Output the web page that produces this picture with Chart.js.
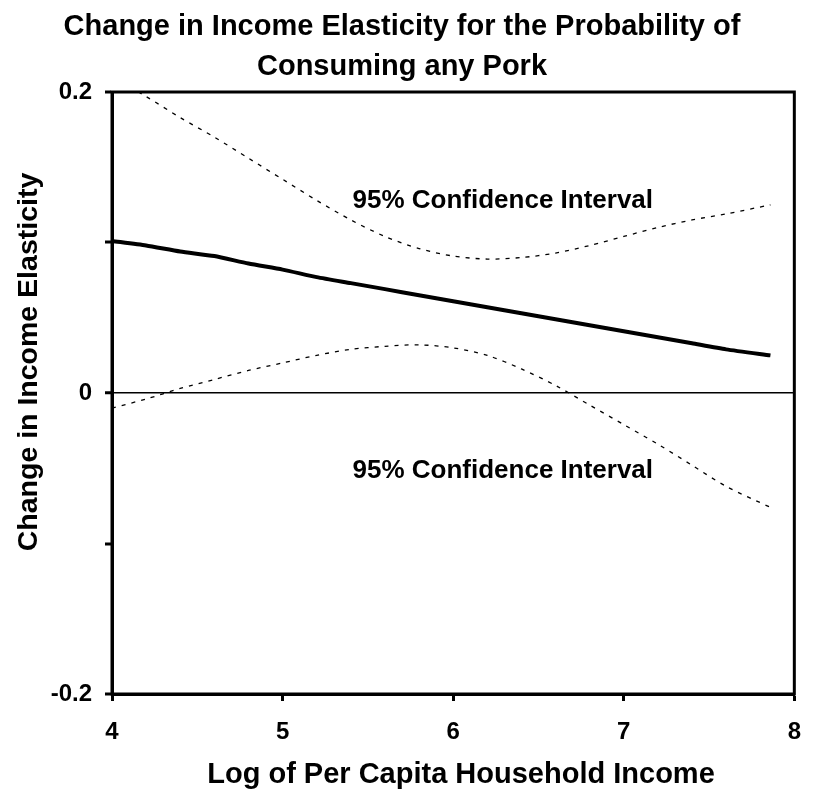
<!DOCTYPE html>
<html>
<head>
<meta charset="utf-8">
<script src="https://cdn.jsdelivr.net/npm/chart.js@4"></script>
<style>
html,body{margin:0;padding:0;background:#fff;}
#wrap{width:818px;height:800px;position:relative;}
</style>
</head>
<body>
<div id="wrap"><canvas id="c" width="818" height="800"></canvas></div>
<script>
// ---- data ----
const incomeLog = [4.0,4.2,4.4,4.6,4.8,5.0,5.2,5.4,5.6,5.8,6.0,6.2,6.4,6.6,6.8,7.0,7.2,7.4,7.6,7.86];
const elasticity = [0.101,0.098,0.094,0.091,0.086,0.082,0.077,0.073,0.069,0.065,0.061,0.057,0.053,0.049,0.045,0.041,0.037,0.033,0.029,0.025];
const upperCI = [0.210,0.197,0.183,0.170,0.156,0.142,0.128,0.115,0.104,0.096,0.091,0.089,0.090,0.093,0.098,0.104,0.110,0.115,0.119,0.125];
const lowerCI = [-0.010,-0.004,0.003,0.009,0.015,0.020,0.025,0.029,0.031,0.032,0.030,0.025,0.016,0.005,-0.008,-0.021,-0.034,-0.048,-0.062,-0.076];
const yTickLabels = {"-0.2":"-0.2","0":"0","0.2":"0.2"};
const xTickLabels = ["4","5","6","7","8"];
const titleLines = ["Change in Income Elasticity for the Probability of","Consuming any Pork"];
const xTitle = "Log of Per Capita Household Income";
const yTitle = "Change in Income Elasticity";
const ciLabel = "95% Confidence Interval";
const ciLabelPos = [[5.41,0.128],[5.41,-0.052]];

const FONT = "'Liberation Sans', Arial, sans-serif";
const pts = (ys) => incomeLog.map((x,i)=>({x:x,y:ys[i]}));

const textPlugin = {
  id:'texts',
  afterDraw(chart){
    const ctx = chart.ctx, a = chart.chartArea;
    ctx.save();
    // frame
    ctx.strokeStyle='#000'; ctx.lineWidth=3;
    ctx.strokeRect(a.left, a.top, a.right-a.left, a.bottom-a.top);
    ctx.fillStyle='#000';
    ctx.textAlign='center'; ctx.textBaseline='alphabetic';
    ctx.font = "bold 29px "+FONT;
    ctx.fillText(titleLines[0], 402, 35);
    ctx.fillText(titleLines[1], 402, 75);
    ctx.font = "bold 29px "+FONT;
    ctx.fillText(xTitle, 461, 783);
    ctx.save();
    ctx.translate(37, 362);
    ctx.rotate(-Math.PI/2);
    ctx.font = "bold 28.5px "+FONT;
    ctx.fillText(yTitle, 0, 0);
    ctx.restore();
    ctx.font = "bold 26px "+FONT;
    ctx.textAlign='left'; ctx.textBaseline='middle';
    const xs = chart.scales.x, ys = chart.scales.y;
    ciLabelPos.forEach(p=>{
      ctx.fillText(ciLabel, xs.getPixelForValue(p[0]), ys.getPixelForValue(p[1]));
    });
    ctx.restore();
  }
};

new Chart(document.getElementById('c'), {
  type:'line',
  data:{
    datasets:[
      {data:pts(upperCI), borderColor:'#000', borderWidth:1.3, borderDash:[4,6], pointRadius:0, tension:0.3, fill:false},
      {data:pts(elasticity), borderColor:'#000', borderWidth:4, pointRadius:0, tension:0.2, fill:false},
      {data:pts(lowerCI), borderColor:'#000', borderWidth:1.3, borderDash:[4,6], pointRadius:0, tension:0.3, fill:false}
    ]
  },
  options:{
    responsive:false, animation:false,
    layout:{padding:{top:92,right:11,left:0,bottom:0}},
    plugins:{legend:{display:false}, title:{display:false}, tooltip:{enabled:false}},
    scales:{
      x:{type:'linear', min:4, max:8,
        ticks:{stepSize:1, color:'#000', font:{family:FONT, size:24, weight:'bold'}, padding:17,
          callback:(v)=>{const i=Math.round(v)-4; return xTickLabels[i]!==undefined && Math.abs(v-Math.round(v))<1e-9 ? xTickLabels[i] : '';}},
        grid:{display:true, drawOnChartArea:false, drawTicks:true, tickLength:7, tickWidth:3, tickColor:'#000', color:'#000'},
        border:{display:true, color:'#000', width:3},
        afterFit:(s)=>{s.height=106;}
      },
      y:{type:'linear', min:-0.2, max:0.2,
        ticks:{stepSize:0.1, color:'#000', font:{family:FONT, size:24, weight:'bold'}, padding:13,
          callback:(v)=>{const k=String(Math.round(v*10)/10); return yTickLabels[k]!==undefined?yTickLabels[k]:'';}},
        grid:{display:true, drawOnChartArea:true, drawTicks:true, tickLength:7, tickWidth:3, tickColor:'#000',
          color:(c)=> (c.tick && Math.abs(c.tick.value)<1e-9) ? '#000' : 'rgba(0,0,0,0)',
          lineWidth:(c)=> (c.tick && Math.abs(c.tick.value)<1e-9) ? 1.5 : 0},
        border:{display:true, color:'#000', width:3},
        afterFit:(s)=>{s.width=112;}
      }
    }
  },
  plugins:[textPlugin]
});
</script>
</body>
</html>
